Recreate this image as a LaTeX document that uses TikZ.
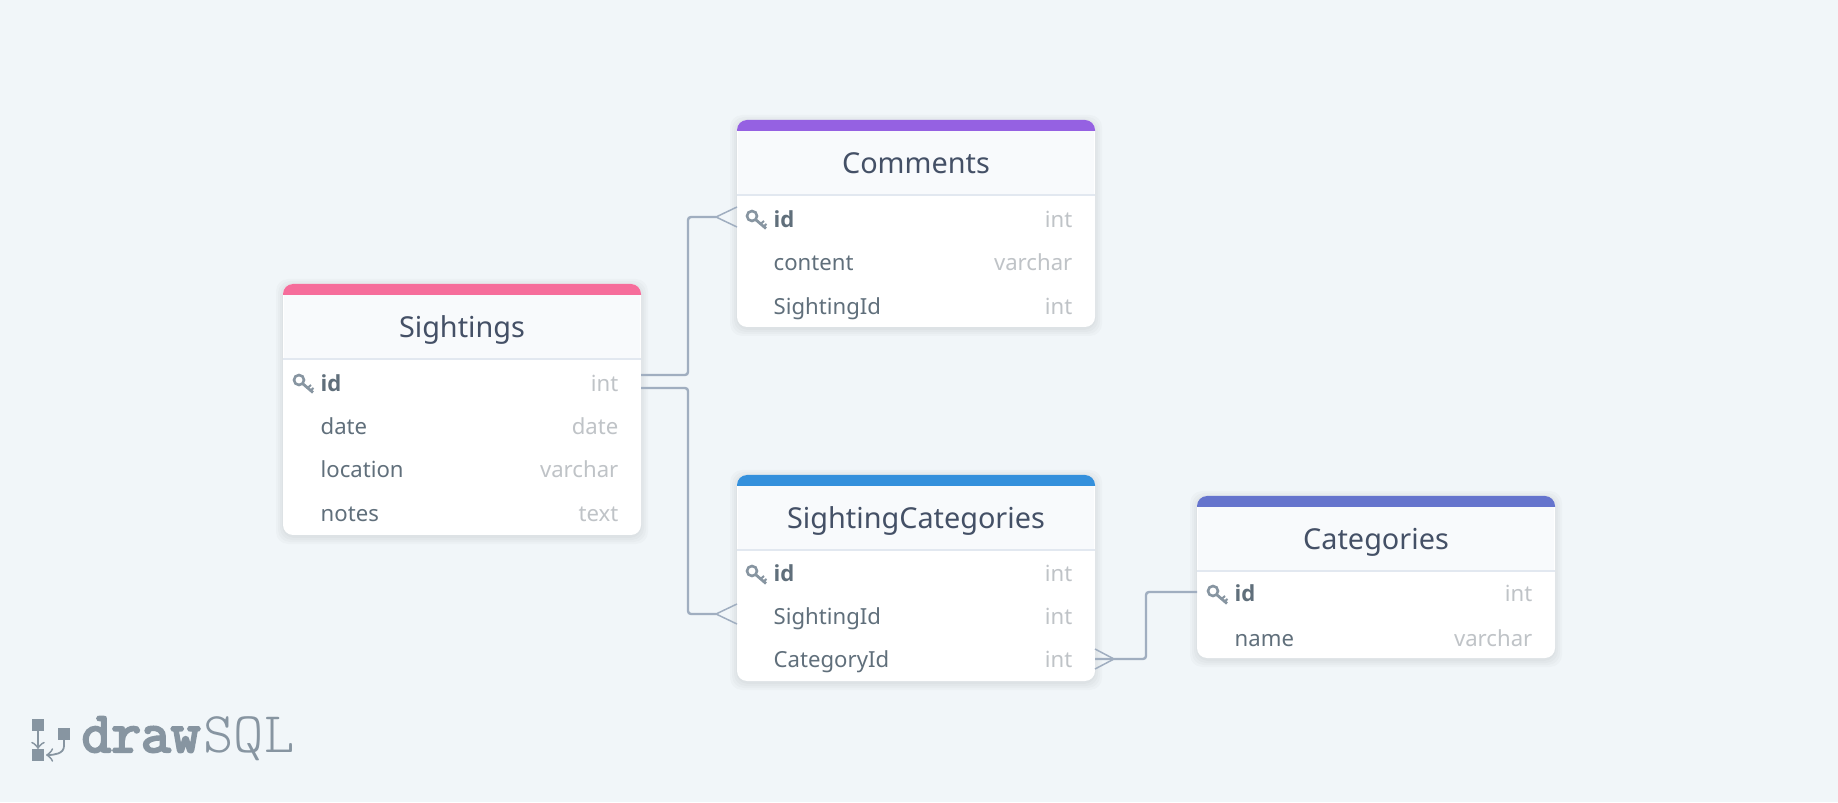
\documentclass[tikz,border=0pt]{standalone}
\usepackage{fontspec}
\setmainfont{Noto Sans}
\newfontfamily\keybold{Open Sans}
\newfontfamily\logoheavy[FakeBold=4]{Latin Modern Mono}
\newfontfamily\logolight{Latin Modern Mono Light}
\usetikzlibrary{calc}
\usetikzlibrary{positioning}

\definecolor{canvas}{HTML}{F1F6F9}
\definecolor{headfill}{HTML}{F8FAFC}
\definecolor{headline}{HTML}{E2E8F0}
\definecolor{titlegrey}{HTML}{445066}
\definecolor{namegrey}{HTML}{606F7B}
\definecolor{typegrey}{HTML}{BFC3C7}
\definecolor{keygrey}{HTML}{8795A1}
\definecolor{relgrey}{HTML}{A0AEC0}
\definecolor{barpink}{HTML}{F66D9B}
\definecolor{barpurple}{HTML}{9561E2}
\definecolor{barblue}{HTML}{3490DC}
\definecolor{barindigo}{HTML}{6574CD}

\tikzset{
	tablebox/.style={fill=white,rounded corners=.1cm,minimum width=3.58cm,inner sep=0pt,outer sep=0pt,anchor=north west},
	tabletitle/.style={anchor=base,text=titlegrey,font=\fontsize{8.2}{10}\selectfont},
	rowname/.style={anchor=base west,inner sep=0pt,text=namegrey,font=\fontsize{6.3}{8}\selectfont},
	rowkey/.style={rowname,font=\fontsize{6.3}{8}\keybold\bfseries\selectfont},
	rowtype/.style={anchor=base east,inner sep=0pt,text=typegrey,font=\fontsize{6.3}{8}\selectfont},
	relation/.style={draw=relgrey,line width=.024cm,rounded corners=.03cm},
	crowfoot/.style={draw=relgrey,line width=.015cm},
	logosquare/.style={fill=keygrey,minimum size=.12cm,inner sep=0pt,outer sep=0pt},
	logoline/.style={draw=keygrey,line width=.018cm},
	logotext/.style={anchor=base west,inner sep=0pt,text=keygrey},
	keyicon/.pic={
		\draw[keygrey,line width=.026cm] (0,0) circle (.05);
		\draw[keygrey,line width=.028cm] (.035,-.035) -- (.14,-.125);
		\draw[keygrey,line width=.02cm] (.085,-.08) -- (.12,-.05);
		\draw[keygrey,line width=.02cm] (.115,-.105) -- (.145,-.08);
	}
}

\begin{document}
\begin{tikzpicture}
		\fill[canvas] (0,0) rectangle (18.38,8.02);

		% tables
		\foreach \tblname/\x/\y/\h/\barcol/\heading in {
			sightings/2.83/5.18/2.51/barpink/Sightings,
			comments/7.37/6.82/2.07/barpurple/Comments,
			sightingCategories/7.37/3.27/2.06/barblue/SightingCategories,
			categories/11.97/3.06/1.62/barindigo/Categories}{
			\foreach \r in {.07,.05,.03,.01}
				\fill[black,opacity=.018,rounded corners=.12cm] (\x-\r,\y-\h-\r-.02) rectangle (\x+3.58+\r,\y+\r-.02);
			\node[tablebox,minimum height=\h cm] (\tblname) at (\x,\y) {};
			\fill[\barcol,rounded corners=.1cm] ($(\tblname.north west)+(0,-.11)$) -- (\tblname.north west) -- (\tblname.north east) [sharp corners] -- ($(\tblname.north east)+(0,-.11)$) -- cycle;
			\fill[headfill] ($(\tblname.north west)+(.01,-.11)$) rectangle ($(\tblname.north east)+(-.01,-.74)$);
			\fill[headline] ($(\tblname.north west)+(0,-.74)$) rectangle ($(\tblname.north east)+(0,-.76)$);
			\node[tabletitle] (\tblname Title) at ($(\tblname.north)+(0,-.54)$) {\heading};
		}

		% Sightings
		\draw (3.20,4.10) node[rowkey] (sightingsId) {id};
		\draw (3.20,3.67) node[rowname] (sightingsDate) {date};
		\draw (3.20,3.24) node[rowname] (sightingsLocation) {location};
		\draw (3.20,2.81) node[rowname] (sightingsNotes) {notes};
		\draw (6.19,4.10) node[rowtype] (sightingsIdType) {int};
		\draw (6.19,3.67) node[rowtype] (sightingsDateType) {date};
		\draw (6.19,3.24) node[rowtype] (sightingsLocationType) {varchar};
		\draw (6.19,2.81) node[rowtype] (sightingsNotesType) {text};

		% Comments
		\draw (7.73,5.74) node[rowkey] (commentsId) {id};
		\draw (7.73,5.31) node[rowname] (commentsContent) {content};
		\draw (7.73,4.87) node[rowname] (commentsSightingId) {SightingId};
		\draw (10.73,5.74) node[rowtype] (commentsIdType) {int};
		\draw (10.73,5.31) node[rowtype] (commentsContentType) {varchar};
		\draw (10.73,4.87) node[rowtype] (commentsSightingIdType) {int};

		% SightingCategories
		\draw (7.73,2.20) node[rowkey] (linkId) {id};
		\draw (7.73,1.77) node[rowname] (linkSightingId) {SightingId};
		\draw (7.73,1.34) node[rowname] (linkCategoryId) {CategoryId};
		\draw (10.73,2.20) node[rowtype] (linkIdType) {int};
		\draw (10.73,1.77) node[rowtype] (linkSightingIdType) {int};
		\draw (10.73,1.34) node[rowtype] (linkCategoryIdType) {int};

		% Categories
		\draw (12.34,2.00) node[rowkey] (categoriesId) {id};
		\draw (12.34,1.56) node[rowname] (categoriesName) {name};
		\draw (15.33,2.00) node[rowtype] (categoriesIdType) {int};
		\draw (15.33,1.56) node[rowtype] (categoriesNameType) {varchar};

		% keys
		\pic at ($(sightingsId.base west)+(-.21,.12)$) {keyicon};
		\pic at ($(commentsId.base west)+(-.21,.12)$) {keyicon};
		\pic at ($(linkId.base west)+(-.21,.11)$) {keyicon};
		\pic at ($(categoriesId.base west)+(-.21,.11)$) {keyicon};

		% relations
		\coordinate (busLeft) at (6.88,0);
		\coordinate (busRight) at (11.46,0);
		\coordinate (portComments) at ($(sightings.east |- sightingsId.base)+(0,.17)$);
		\coordinate (portLink) at ($(sightings.east |- sightingsId.base)+(0,.04)$);
		\coordinate (tipComments) at ($(comments.west |- commentsId.base)+(-.21,.11)$);
		\coordinate (tipLink) at ($(sightingCategories.west |- linkSightingId.base)+(-.21,.11)$);
		\coordinate (portCategories) at ($(categories.west |- categoriesId.base)+(0,.10)$);
		\coordinate (portCategoryId) at ($(sightingCategories.east |- linkCategoryId.base)+(0,.09)$);
		\coordinate (tipCategoryId) at ($(portCategoryId)+(.19,0)$);

		\draw[relation] (portComments) -| (busLeft |- tipComments) -- (tipComments);
		\draw[relation] (portLink) -| (busLeft |- tipLink) -- (tipLink);
		\draw[relation] (portCategories) -| (busRight |- portCategoryId) -- (portCategoryId);

		\draw[crowfoot] ($(comments.west |- tipComments)+(0,.1)$) -- (tipComments) -- ($(comments.west |- tipComments)+(0,-.1)$);
		\draw[crowfoot] ($(sightingCategories.west |- tipLink)+(0,.1)$) -- (tipLink) -- ($(sightingCategories.west |- tipLink)+(0,-.1)$);
		\draw[crowfoot] ($(portCategoryId)+(0,.1)$) -- (tipCategoryId) -- ($(portCategoryId)+(0,-.1)$);

		% logo
		\node[logosquare] (logoTop) at (.38,.77) {};
		\node[logosquare] (logoBottom) at (.38,.47) {};
		\node[logosquare] (logoRight) at (.64,.68) {};
		\draw[logoline,->] (logoTop.south) -- (logoBottom.north);
		\draw[logoline,->] (logoRight.south) -- ++(0,-.06) to[out=-90,in=0] ($(logoBottom.east)+(.02,0)$);
		\draw (.81,.50) node[logotext,font=\fontsize{16.4}{18}\selectfont\logoheavy] (logoDraw) {draw};
		\draw (2.03,.50) node[logotext,font=\fontsize{16.4}{18}\selectfont\logolight] (logoSql) {SQL};
\end{tikzpicture}
\end{document}
